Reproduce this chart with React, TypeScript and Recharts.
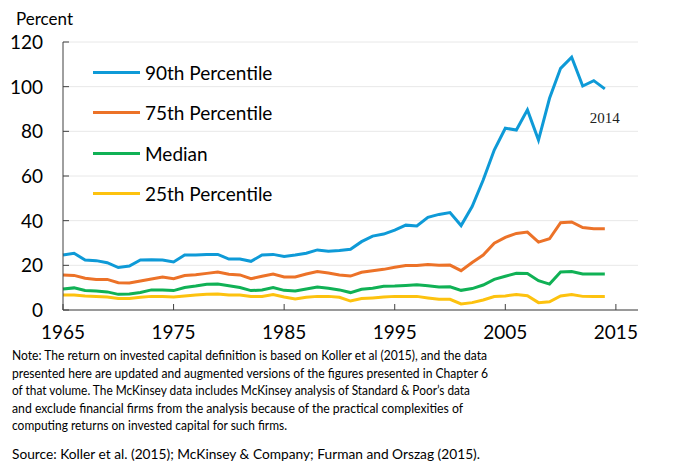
import React from "react";
import {
  LineChart,
  Line,
  XAxis,
  YAxis,
  CartesianGrid,
  Legend,
  ReferenceDot,
} from "recharts";

const years = [
  1965, 1966, 1967, 1968, 1969, 1970, 1971, 1972, 1973, 1974,
  1975, 1976, 1977, 1978, 1979, 1980, 1981, 1982, 1983, 1984,
  1985, 1986, 1987, 1988, 1989, 1990, 1991, 1992, 1993, 1994,
  1995, 1996, 1997, 1998, 1999, 2000, 2001, 2002, 2003, 2004,
  2005, 2006, 2007, 2008, 2009, 2010, 2011, 2012, 2013, 2014,
];

const p90 = [
  24.6, 25.4, 22.4, 22.1, 21.2, 19.0, 19.7, 22.4, 22.5, 22.4,
  21.5, 24.6, 24.6, 24.8, 24.9, 22.8, 22.8, 21.8, 24.6, 24.9,
  24.0, 24.6, 25.4, 26.9, 26.3, 26.6, 27.2, 30.6, 33.1, 34.0,
  35.8, 38.0, 37.6, 41.5, 42.8, 43.6, 37.8, 46.3, 58.2, 71.6,
  81.4, 80.6, 89.6, 76.1, 94.8, 108.2, 113.2, 100.3, 102.7, 99.0,
];

const p75 = [
  15.7, 15.5, 14.2, 13.7, 13.7, 12.2, 12.1, 13.0, 13.9, 14.8,
  14.0, 15.4, 15.8, 16.4, 17.0, 16.0, 15.7, 14.0, 15.1, 16.1,
  14.8, 14.8, 16.1, 17.2, 16.6, 15.7, 15.2, 16.9, 17.6, 18.2,
  19.1, 19.9, 19.9, 20.4, 20.0, 20.1, 17.6, 21.3, 24.6, 29.9,
  32.5, 34.3, 34.9, 30.4, 31.9, 39.1, 39.4, 36.9, 36.4, 36.4,
];

const median = [
  9.4, 9.9, 8.7, 8.5, 8.1, 7.0, 7.2, 7.8, 9.0, 9.0,
  8.7, 10.1, 10.7, 11.5, 11.6, 10.9, 10.1, 8.7, 9.0, 10.1,
  8.8, 8.5, 9.4, 10.3, 9.7, 9.0, 7.8, 9.3, 9.7, 10.6,
  10.7, 11.0, 11.3, 10.9, 10.3, 10.4, 8.8, 9.6, 11.2, 13.7,
  15.1, 16.4, 16.3, 13.1, 11.6, 17.0, 17.2, 16.1, 16.1, 16.1,
];

const p25 = [
  6.7, 6.7, 6.3, 6.1, 5.8, 5.2, 5.2, 5.7, 6.1, 6.0,
  5.8, 6.3, 6.7, 7.0, 7.2, 6.7, 6.7, 6.0, 6.0, 6.9,
  5.8, 4.9, 5.7, 6.1, 6.1, 5.7, 4.0, 5.1, 5.4, 5.8,
  6.1, 6.1, 6.1, 5.4, 4.8, 4.8, 2.7, 3.3, 4.5, 6.0,
  6.3, 6.9, 6.4, 3.3, 3.7, 6.3, 6.9, 6.1, 6.0, 6.1,
];

const xTicks = [1965, 1975, 1985, 1995, 2005, 2015];
const yTicks = [0, 20, 40, 60, 80, 100, 120];

const series = [
  { key: "p90", name: "90th Percentile", color: "#0e9ad7" },
  { key: "p75", name: "75th Percentile", color: "#ec7228" },
  { key: "median", name: "Median", color: "#10b155" },
  { key: "p25", name: "25th Percentile", color: "#fdc20f" },
];

const noteLines = [
  "Note: The return on invested capital definition is based on Koller et al (2015), and the data",
  "presented here are updated and augmented versions of the figures presented in Chapter 6",
  "of that volume. The McKinsey data includes McKinsey analysis of Standard & Poor\u2019s data",
  "and exclude financial firms from the analysis because of the practical complexities of",
  "computing returns on invested capital for such firms.",
];
const sourceLine = "Source: Koller et al. (2015); McKinsey & Company; Furman and Orszag (2015).";

const data = years.map((year, i) => ({
  year,
  p90: p90[i],
  p75: p75[i],
  median: median[i],
  p25: p25[i],
}));

const FONT = "Lato, 'Liberation Sans', sans-serif";
const AXIS = "#404040";

function XTick(props: any) {
  const { x, y, payload } = props;
  return (
    <g>
      <line x1={x} x2={x} y1={y} y2={y - 6} stroke={AXIS} />
      <text x={x} y={y + 29} textAnchor="middle" fontSize={19} fontFamily={FONT} fill="#000">
        {payload.value}
      </text>
    </g>
  );
}

function YTick(props: any) {
  const { x, y, payload } = props;
  return (
    <g>
      <line x1={x} x2={x + 6} y1={y} y2={y} stroke={AXIS} />
      <text x={x - 20} y={y + 7} textAnchor="end" fontSize={19} fontFamily={FONT} fill="#000">
        {payload.value}
      </text>
    </g>
  );
}

function LegendBox() {
  return (
    <div style={{ fontFamily: FONT, fontSize: 19, color: "#000" }}>
      {series.map((s) => (
        <div key={s.key} style={{ display: "flex", alignItems: "center", height: 40.5 }}>
          <span style={{ display: "inline-block", width: 47, height: 3, background: s.color, marginRight: 5 }} />
          <span>{s.name}</span>
        </div>
      ))}
    </div>
  );
}

export default function App() {
  return (
    <div style={{ position: "absolute", left: 0, top: 0, width: 679, height: 465, background: "#fff" }}>
      <LineChart width={679} height={350} data={data} margin={{ top: 42, right: 41, bottom: 10, left: 13 }}>
        <CartesianGrid vertical={false} stroke="#e8e8e8" />
        <XAxis
          dataKey="year"
          type="number"
          domain={[1965, 2017]}
          ticks={xTicks}
          interval={0}
          height={30}
          tickSize={0}
          tickMargin={0}
          tickLine={false}
          axisLine={{ stroke: AXIS }}
          tick={<XTick />}
        />
        <XAxis xAxisId="top" orientation="top" dataKey="year" type="number" domain={[1965, 2017]} height={0} tick={false} tickLine={false} axisLine={{ stroke: AXIS }} />
        <YAxis
          domain={[0, 120]}
          ticks={yTicks}
          interval={0}
          width={50}
          tickSize={0}
          tickMargin={0}
          tickLine={false}
          axisLine={{ stroke: AXIS }}
          tick={<YTick />}
        />
        <YAxis yAxisId="right" orientation="right" domain={[0, 120]} width={0} tick={false} tickLine={false} axisLine={{ stroke: AXIS }} />
        <Legend
          layout="vertical"
          align="center"
          verticalAlign="middle"
          wrapperStyle={{ left: 93, top: 52, width: 260 }}
          content={<LegendBox />}
        />
        {series.map((s) => (
          <Line
            key={s.key}
            type="linear"
            dataKey={s.key}
            name={s.name}
            stroke={s.color}
            strokeWidth={3}
            dot={false}
            activeDot={false}
            isAnimationActive={false}
          />
        ))}
        <ReferenceDot
          x={2014}
          y={99}
          r={0}
          fill="none"
          stroke="none"
          label={{ value: "2014", position: "bottom", offset: 23, fontSize: 15, fontFamily: "'Liberation Serif', serif", fill: "#222" }}
        />
      </LineChart>
      <svg width={679} height={465} style={{ position: "absolute", left: 0, top: 0, pointerEvents: "none" }}>
        <text x={16} y={25} fontSize={17} fontFamily={FONT} fill="#000">Percent</text>
        {noteLines.map((t, i) => (
          <text
            key={i}
            x={12}
            y={360 + i * 17.5}
            fontSize={14}
            fontFamily={FONT}
            fill="#000"
            textLength={[475, 476, 458, 451, 275][i]}
            lengthAdjust="spacingAndGlyphs"
          >
            {t}
          </text>
        ))}
        <text x={12} y={459} fontSize={14} fontFamily={FONT} fill="#000" textLength={468} lengthAdjust="spacingAndGlyphs">
          {sourceLine}
        </text>
      </svg>
    </div>
  );
}
